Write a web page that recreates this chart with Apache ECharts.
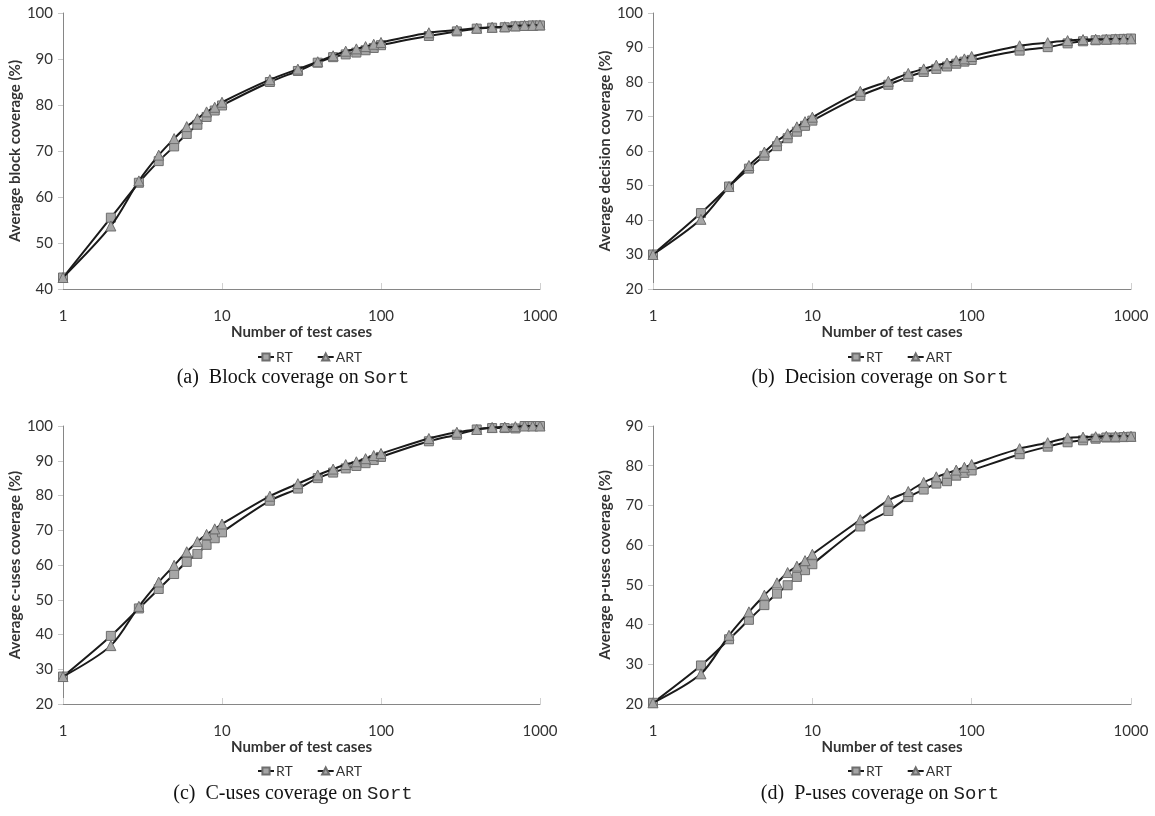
<!DOCTYPE html>
<html>
<head>
<meta charset="utf-8">
<script src="https://cdn.jsdelivr.net/npm/echarts@6/dist/echarts.min.js"></script>
<style>
html,body{margin:0;padding:0;background:#fff;}
#chart{width:1155px;height:816px;}
</style>
</head>
<body>
<div id="chart"></div>
<script>
const xValues = [1,2,3,4,5,6,7,8,9,10,20,30,40,50,60,70,80,90,100,200,300,400,500,600,700,800,900,1000];
const xTickLabels = ['1','10','100','1000'];
const seriesNames = ['RT','ART'];

const blockRT  = [42.5,55.5,63.1,67.8,71.0,73.7,75.7,77.4,78.8,79.9,85.0,87.4,89.2,90.4,91.0,91.4,91.9,92.4,93.0,95.0,96.0,96.6,96.8,96.9,97.1,97.2,97.3,97.3];
const blockART = [42.5,53.7,63.5,69.1,72.7,75.3,77.0,78.5,79.5,80.6,85.5,87.8,89.4,90.7,91.7,92.2,92.7,93.2,93.6,95.7,96.3,96.7,96.9,97.0,97.2,97.3,97.3,97.4];

const decisionRT  = [30.0,42.0,49.7,54.9,58.6,61.4,63.7,65.6,67.3,68.8,76.0,79.2,81.5,82.9,83.8,84.5,85.3,85.9,86.4,89.1,90.1,91.2,91.8,92.1,92.3,92.4,92.5,92.6];
const decisionART = [30.0,40.2,49.7,55.8,59.7,62.9,65.0,67.0,68.5,69.8,77.3,80.2,82.5,83.8,84.9,85.5,86.2,86.7,87.4,90.5,91.4,92.0,92.3,92.4,92.4,92.5,92.5,92.5];

const cusesRT  = [27.9,39.6,47.5,53.1,57.4,60.9,63.2,65.8,67.7,69.4,78.5,82.0,85.0,86.6,87.8,88.5,89.3,90.2,91.1,95.6,97.5,99.0,99.4,99.4,99.3,100,100,100];
const cusesART = [27.9,36.8,48.1,55.1,59.9,63.8,66.7,68.8,70.4,71.8,79.8,83.4,85.9,87.6,88.9,89.7,90.6,91.5,92.1,96.4,98.2,99.0,99.6,99.7,99.8,100,100,100];

const pusesRT  = [20.3,29.7,36.3,41.2,44.9,47.8,49.9,52.0,53.7,55.2,64.7,68.6,72.1,74.0,75.5,76.1,77.5,78.2,78.8,82.9,84.8,85.9,86.4,86.8,87.1,87.1,87.2,87.3];
const pusesART = [20.3,27.6,37.3,43.2,47.4,50.5,53.1,54.7,56.1,57.7,66.4,71.3,73.5,75.8,77.2,78.1,78.9,79.6,80.3,84.3,85.8,87.0,87.2,87.3,87.4,87.4,87.4,87.4];

const yTitles = ['Average block coverage (%)','Average decision coverage (%)','Average c-uses coverage (%)','Average p-uses coverage (%)'];
const xTitle = 'Number of test cases';
const yMins = [40,20,20,20];
const yMaxs = [100,100,100,90];
const captionPrefixes = ['(a)  Block coverage on ','(b)  Decision coverage on ','(c)  C-uses coverage on ','(d)  P-uses coverage on '];
const captionCode = 'Sort';

const panels = [[blockRT,blockART],[decisionRT,decisionART],[cusesRT,cusesART],[pusesRT,pusesART]];

const grids = [
  {left:63, top:13, width:477, height:276},
  {left:653, top:13, width:478, height:276},
  {left:63, top:426, width:477, height:278},
  {left:653, top:426, width:478, height:278}
];
const legendPos = [{left:252,top:345},{left:842,top:345},{left:252,top:759},{left:842,top:759}];
const captionPos = [{x:293,y:378},{x:880,y:378},{x:293,y:794},{x:880,y:794}];

const axisColor = '#868686';
const font = 'Lato';
const xAxes = [], yAxes = [], series = [], legends = [], graphics = [];

grids.forEach((g,i)=>{
  xAxes.push({
    type:'log', logBase:10, min:1, max:1000, gridIndex:i,
    axisLine:{show:true, lineStyle:{color:axisColor, width:1}},
    axisTick:{show:true, inside:true, length:6, lineStyle:{color:'#d0d0d0'}},
    splitLine:{show:false},
    axisLabel:{margin:20, fontFamily:font, fontSize:15, color:'#333',
      formatter:(v)=>{ const s=String(Math.round(v)); return xTickLabels.indexOf(s)>=0?s:''; }},
    name:xTitle, nameLocation:'middle', nameGap:35,
    nameTextStyle:{fontFamily:font, fontWeight:'bold', fontSize:15, color:'#333'}
  });
  yAxes.push({
    type:'value', min:yMins[i], max:yMaxs[i], interval:10, gridIndex:i,
    axisLine:{show:true, lineStyle:{color:axisColor, width:1}},
    axisTick:{show:true, length:5, lineStyle:{color:'#c8c8c8'}},
    splitLine:{show:false},
    axisLabel:{margin:10, fontFamily:font, fontSize:15, color:'#333'},
    name:yTitles[i], nameLocation:'middle', nameGap:40, nameRotate:90,
    nameTextStyle:{fontFamily:font, fontWeight:'bold', fontSize:15, color:'#333'}
  });
  const [rt, art] = panels[i];
  series.push({
    name:'RT', type:'line', xAxisIndex:i, yAxisIndex:i, smooth:0.3,
    data:xValues.map((x,k)=>[x, rt[k]]),
    symbol:'rect', symbolSize:9,
    lineStyle:{color:'#1a1a1a', width:2},
    itemStyle:{color:'#a6a6a6', borderColor:'#6e6e6e', borderWidth:1},
    z:2
  });
  series.push({
    name:'ART', type:'line', xAxisIndex:i, yAxisIndex:i, smooth:0.3,
    data:xValues.map((x,k)=>[x, art[k]]),
    symbol:'triangle', symbolSize:10,
    lineStyle:{color:'#1a1a1a', width:2},
    itemStyle:{color:'#a6a6a6', borderColor:'#6e6e6e', borderWidth:1},
    z:3
  });
  legends.push({
    data:seriesNames, left:legendPos[i].left, top:legendPos[i].top,
    itemWidth:16, itemHeight:9, itemGap:24, selectedMode:false,
    textStyle:{fontFamily:font, fontSize:14, color:'#333', padding:[0,0,0,-3]}
  });
  graphics.push({
    type:'text', x:captionPos[i].x, y:captionPos[i].y,
    style:{
      text:'{s|'+captionPrefixes[i]+'}{m|'+captionCode+'}',
      align:'center', verticalAlign:'middle',
      rich:{
        s:{fontFamily:'Liberation Serif', fontSize:20, fill:'#111', color:'#111'},
        m:{fontFamily:'Liberation Mono', fontSize:19, fill:'#222', color:'#222'}
      }
    }
  });
});

const chart = echarts.init(document.getElementById('chart'), null, {renderer:'canvas'});
chart.setOption({
  animation:false,
  backgroundColor:'#fff',
  grid:grids,
  xAxis:xAxes,
  yAxis:yAxes,
  legend:legends,
  series:series,
  graphic:graphics
});
</script>
</body>
</html>
